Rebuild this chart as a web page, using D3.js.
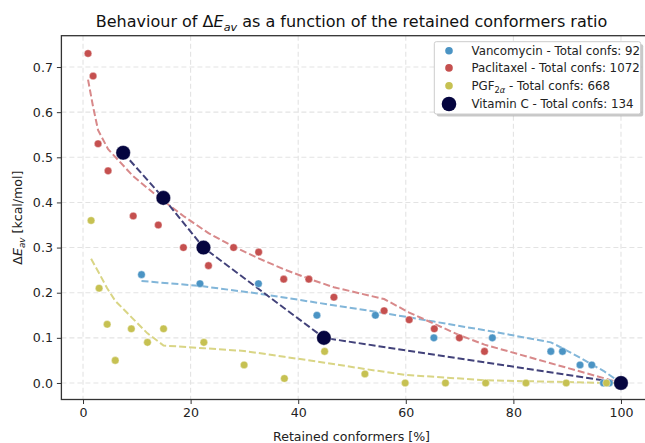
<!DOCTYPE html>
<html>
<head>
<meta charset="utf-8">
<script src="https://cdn.jsdelivr.net/npm/d3@7"></script>
<style>
  html, body { margin: 0; padding: 0; background: #fff; }
  svg { display: block; font-family: "DejaVu Sans", sans-serif; }
</style>
</head>
<body>
<svg id="chart" width="645" height="443"></svg>
<script>
// ---------- data ----------
const xTicks = [0, 20, 40, 60, 80, 100];
const yTicks = [0.0, 0.1, 0.2, 0.3, 0.4, 0.5, 0.6, 0.7];

// Vancomycin (92 conformers)
const vancoX   = [10.87, 21.74, 32.61, 43.48, 54.35, 65.22, 76.09, 86.96, 89.13, 92.39, 94.57, 96.74, 97.83, 100];
const vancoY   = [0.24, 0.22, 0.22, 0.15, 0.15, 0.10, 0.10, 0.07, 0.07, 0.04, 0.04, 0.0, 0.0, 0.0];
const vancoFitX = [10.87, 21.74, 32.61, 43.48, 54.35, 65.22, 76.09, 86.96, 89.13, 92.39, 94.57, 96.74, 100];
const vancoFitY = [0.226, 0.215, 0.198, 0.178, 0.158, 0.136, 0.114, 0.090, 0.077, 0.056, 0.041, 0.027, 0.0];

// Paclitaxel (1072 conformers)
const paclX   = [0.93, 1.87, 2.80, 4.66, 9.33, 13.99, 18.66, 23.32, 27.99, 32.65, 37.31, 41.98, 46.64, 55.97, 60.63, 65.30, 69.96, 74.63, 100];
const paclY   = [0.73, 0.68, 0.53, 0.47, 0.37, 0.35, 0.30, 0.26, 0.30, 0.29, 0.23, 0.23, 0.19, 0.16, 0.14, 0.12, 0.10, 0.07, 0.0];
const paclFitY = [0.672, 0.612, 0.560, 0.518, 0.458, 0.412, 0.370, 0.332, 0.302, 0.276, 0.252, 0.231, 0.212, 0.186, 0.156, 0.131, 0.106, 0.085, 0.0];

// PGF2a (668 conformers)
const pgfX   = [1.50, 2.99, 4.49, 5.99, 8.98, 11.98, 14.97, 22.46, 29.94, 37.43, 44.91, 52.40, 59.88, 67.37, 74.85, 82.34, 89.82, 97.31, 100];
const pgfY   = [0.36, 0.21, 0.13, 0.05, 0.12, 0.09, 0.12, 0.09, 0.04, 0.01, 0.07, 0.02, 0.0, 0.0, 0.0, 0.0, 0.0, 0.0, 0.0];
const pgfFitY = [0.275, 0.243, 0.210, 0.182, 0.146, 0.110, 0.083, 0.077, 0.071, 0.058, 0.045, 0.031, 0.018, 0.012, 0.006, 0.004, 0.002, 0.0, 0.0];

// Vitamin C (134 conformers)
const vitcX = [7.46, 14.93, 22.39, 44.78, 100];
const vitcY = [0.51, 0.41, 0.30, 0.10, 0.0];

const legendLabels = ["Vancomycin - Total confs: 92", "Paclitaxel - Total confs: 1072", "PGF2α - Total confs: 668", "Vitamin C - Total confs: 134"];

// ---------- layout ----------
const svg = d3.select("#chart");
const L = 61.4, R = 647.6, T = 35.7, B = 399.5;
const x = d3.scaleLinear().domain([-4.02, 104.95]).range([L, R]);
const y = d3.scaleLinear().domain([-0.0366, 0.7694]).range([B, T]);

const colBlue = "#4b94c4", colRed = "#c5504f", colYel = "#c6c152", colNavy = "#05053f";
const lnBlue = "#82b6d9", lnRed = "#d8898a", lnYel = "#d9d585", lnNavy = "#42427a";
const FS = 12.6, LFS = 11.8;

svg.append("defs").append("clipPath").attr("id", "clip")
  .append("rect").attr("x", L).attr("y", T).attr("width", R - L).attr("height", B - T);

// grid
const grid = svg.append("g");
grid.selectAll("line.gx").data(xTicks).join("line")
  .attr("x1", d => x(d)).attr("x2", d => x(d)).attr("y1", T).attr("y2", B)
  .attr("stroke", "#e3e3e3").attr("stroke-width", 1.1).attr("stroke-dasharray", "5,3");
grid.selectAll("line.gy").data(yTicks).join("line")
  .attr("y1", d => y(d)).attr("y2", d => y(d)).attr("x1", L).attr("x2", R)
  .attr("stroke", "#e3e3e3").attr("stroke-width", 1.1).attr("stroke-dasharray", "5,3");

const plot = svg.append("g").attr("clip-path", "url(#clip)");
const line = d3.line().x(d => x(d[0])).y(d => y(d[1]));
function fit(xs, ys, color) {
  plot.append("path").datum(xs.map((v, i) => [v, ys[i]]))
    .attr("d", line).attr("fill", "none").attr("stroke", color)
    .attr("stroke-width", 2).attr("stroke-dasharray", "7,3");
}
fit(vancoFitX, vancoFitY, lnBlue);
fit(paclX, paclFitY, lnRed);
fit(pgfX, pgfFitY, lnYel);
fit(vitcX, vitcY, lnNavy);

function dots(xs, ys, color, r) {
  plot.append("g").selectAll("circle").data(xs.map((v, i) => [v, ys[i]])).join("circle")
    .attr("cx", d => x(d[0])).attr("cy", d => y(d[1])).attr("r", r)
    .attr("fill", color).attr("stroke", "#fff").attr("stroke-width", 0.4);
}
dots(vancoX, vancoY, colBlue, 3.8);
dots(paclX, paclY, colRed, 3.8);
dots(pgfX, pgfY, colYel, 3.8);
dots(vitcX, vitcY, colNavy, 7.3);

// axes
const xAxis = svg.append("g").attr("transform", `translate(0,${B})`)
  .call(d3.axisBottom(x).tickValues(xTicks).tickFormat(d3.format("d")).tickSize(4.5).tickPadding(4));
const yAxis = svg.append("g").attr("transform", `translate(${L},0)`)
  .call(d3.axisLeft(y).tickValues(yTicks).tickFormat(d3.format(".1f")).tickSize(4.5).tickPadding(4));
[xAxis, yAxis].forEach(a => {
  a.select(".domain").remove();
  a.selectAll("text").attr("font-family", "DejaVu Sans").attr("font-size", FS).attr("fill", "#222");
  a.selectAll("line").attr("stroke", "#333").attr("stroke-width", 1);
});
// frame
svg.append("rect").attr("x", L).attr("y", T).attr("width", R - L).attr("height", B - T)
  .attr("fill", "none").attr("stroke", "#333").attr("stroke-width", 1.3);

// title
const title = svg.append("text").attr("x", (L + R) / 2 - 3).attr("y", 27)
  .attr("text-anchor", "middle").attr("font-size", 16).attr("fill", "#111");
title.append("tspan").text("Behaviour of Δ");
title.append("tspan").attr("font-style", "italic").text("E");
title.append("tspan").attr("font-style", "italic").attr("font-size", 11.2).attr("dy", 3.5).text("av");
title.append("tspan").attr("dy", -3.5).text(" as a function of the retained conformers ratio");

// x label
svg.append("text").attr("x", (L + R) / 2 - 3).attr("y", 441).attr("text-anchor", "middle")
  .attr("font-size", FS).attr("fill", "#222").text("Retained conformers [%]");
// y label
const yl = svg.append("text").attr("transform", `translate(22,${(T + B) / 2}) rotate(-90)`)
  .attr("text-anchor", "middle").attr("font-size", FS).attr("fill", "#222");
yl.append("tspan").text("Δ");
yl.append("tspan").attr("font-style", "italic").text("E");
yl.append("tspan").attr("font-style", "italic").attr("font-size", 8.8).attr("dy", 2.8).text("av");
yl.append("tspan").attr("dy", -2.8).text(" [kcal/mol]");

// legend
const lg = svg.append("g");
const lx = 434.3, ly = 41.7, lw = 206.4, lh = 72.3;
lg.append("rect").attr("x", lx + 2.5).attr("y", ly + 2.5).attr("width", lw).attr("height", lh)
  .attr("rx", 2).attr("fill", "#9a9a9a").attr("opacity", 0.55);
lg.append("rect").attr("x", lx).attr("y", ly).attr("width", lw).attr("height", lh)
  .attr("rx", 2).attr("fill", "#fff").attr("stroke", "#cccccc").attr("stroke-width", 1);
const legCols = [colBlue, colRed, colYel, colNavy];
const legR = [3.8, 3.8, 3.8, 7.3];
const rowY = [50.7, 67.9, 85.8, 104];
legendLabels.forEach((lab, i) => {
  lg.append("circle").attr("cx", 449).attr("cy", rowY[i]).attr("r", legR[i]).attr("fill", legCols[i]);
  const t = lg.append("text").attr("x", 471.5).attr("y", rowY[i] + 4.3).attr("font-size", LFS).attr("fill", "#222");
  if (i === 2) {
    t.append("tspan").text("PGF");
    t.append("tspan").attr("font-size", 8.3).attr("dy", 2.7).text("2");
    t.append("tspan").attr("font-size", 8.3).attr("font-style", "italic").text("α");
    t.append("tspan").attr("dy", -2.7).text(" - Total confs: 668");
  } else {
    t.text(lab);
  }
});
</script>
</body>
</html>
